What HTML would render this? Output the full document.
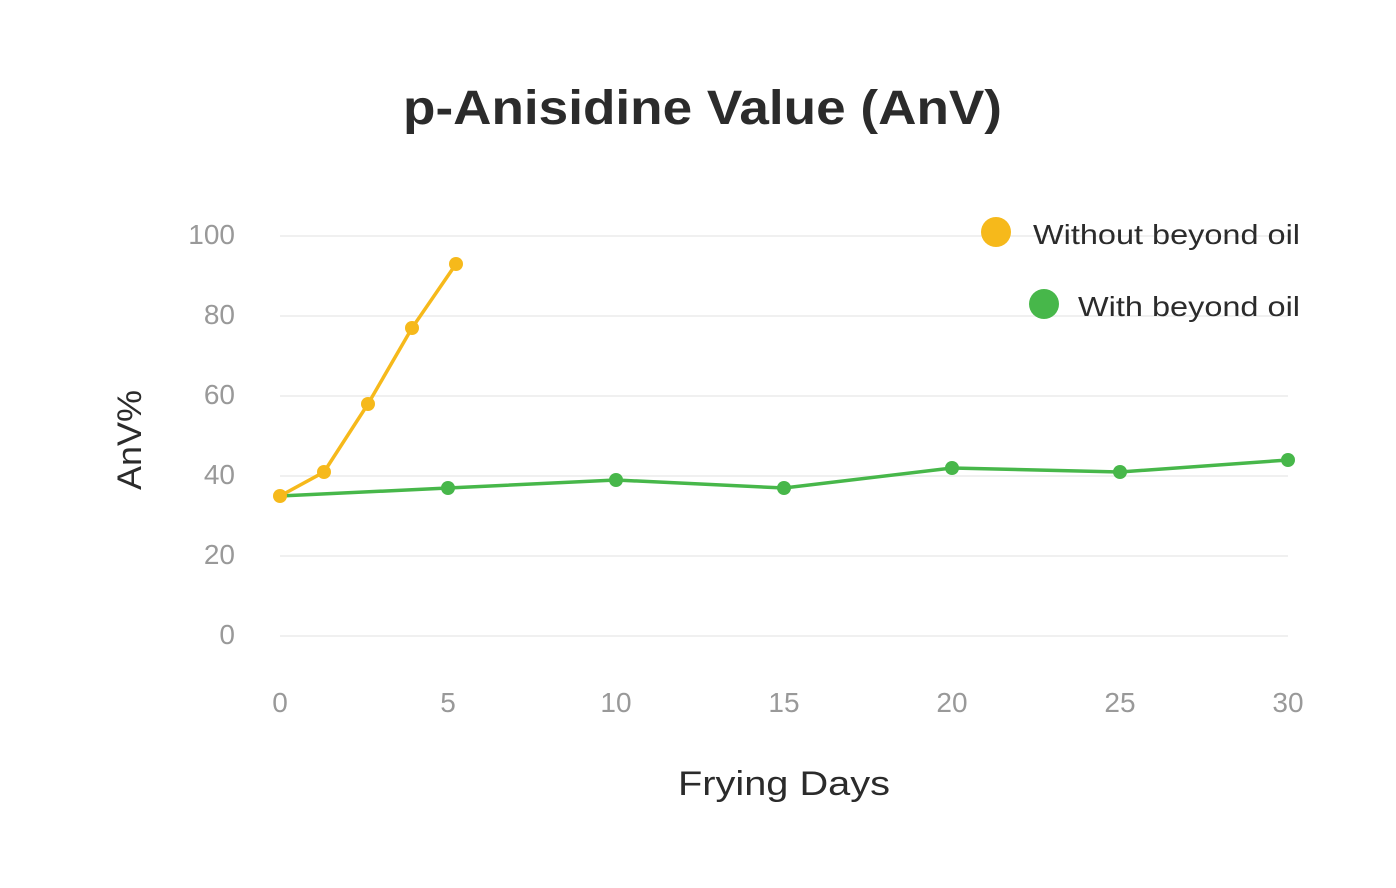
<!DOCTYPE html>
<html><head><meta charset="utf-8"><style>
html,body{margin:0;padding:0;background:#fff;}
svg{display:block;font-family:"Liberation Sans",sans-serif;}
</style></head><body>
<svg width="1396" height="888" viewBox="0 0 1396 888">
<rect width="1396" height="888" fill="#fff"/>
<text x="403" y="124" font-size="48" font-weight="bold" fill="#2b2b2b" textLength="599" lengthAdjust="spacingAndGlyphs">p-Anisidine Value (AnV)</text>
<g stroke="#ececec" stroke-width="1.5">
<line x1="280" y1="236" x2="1288" y2="236"/>
<line x1="280" y1="316" x2="1288" y2="316"/>
<line x1="280" y1="396" x2="1288" y2="396"/>
<line x1="280" y1="476" x2="1288" y2="476"/>
<line x1="280" y1="556" x2="1288" y2="556"/>
<line x1="280" y1="636" x2="1288" y2="636"/>
</g>
<g font-size="28" fill="#999" text-anchor="end">
<text x="235" y="244">100</text>
<text x="235" y="324">80</text>
<text x="235" y="404">60</text>
<text x="235" y="484">40</text>
<text x="235" y="564">20</text>
<text x="235" y="644">0</text>
</g>
<g font-size="28" fill="#999" text-anchor="middle">
<text x="280" y="712">0</text>
<text x="448" y="712">5</text>
<text x="616" y="712">10</text>
<text x="784" y="712">15</text>
<text x="952" y="712">20</text>
<text x="1120" y="712">25</text>
<text x="1288" y="712">30</text>
</g>
<text transform="translate(141,490) rotate(-90)" font-size="34" fill="#2b2b2b" textLength="100" lengthAdjust="spacingAndGlyphs">AnV%</text>
<text x="678" y="795" font-size="34" fill="#2b2b2b" textLength="212" lengthAdjust="spacingAndGlyphs">Frying Days</text>
<polyline points="280,496 448,488 616,480 784,488 952,468 1120,472 1288,460" fill="none" stroke="#47b74a" stroke-width="3.5"/>
<g fill="#47b74a">
<circle cx="448" cy="488" r="7"/><circle cx="616" cy="480" r="7"/><circle cx="784" cy="488" r="7"/><circle cx="952" cy="468" r="7"/><circle cx="1120" cy="472" r="7"/><circle cx="1288" cy="460" r="7"/>
</g>
<polyline points="280,496 324,472 368,404 412,328 456,264" fill="none" stroke="#f6b91b" stroke-width="3.5"/>
<g fill="#f6b91b">
<circle cx="280" cy="496" r="7"/><circle cx="324" cy="472" r="7"/><circle cx="368" cy="404" r="7"/><circle cx="412" cy="328" r="7"/><circle cx="456" cy="264" r="7"/>
</g>
<circle cx="996" cy="232" r="15" fill="#f6b91b"/>
<text x="1033" y="244" font-size="28" fill="#2b2b2b" textLength="267" lengthAdjust="spacingAndGlyphs">Without beyond oil</text>
<circle cx="1044" cy="304" r="15" fill="#47b74a"/>
<text x="1078" y="316" font-size="28" fill="#2b2b2b" textLength="222" lengthAdjust="spacingAndGlyphs">With beyond oil</text>
</svg>
</body></html>
